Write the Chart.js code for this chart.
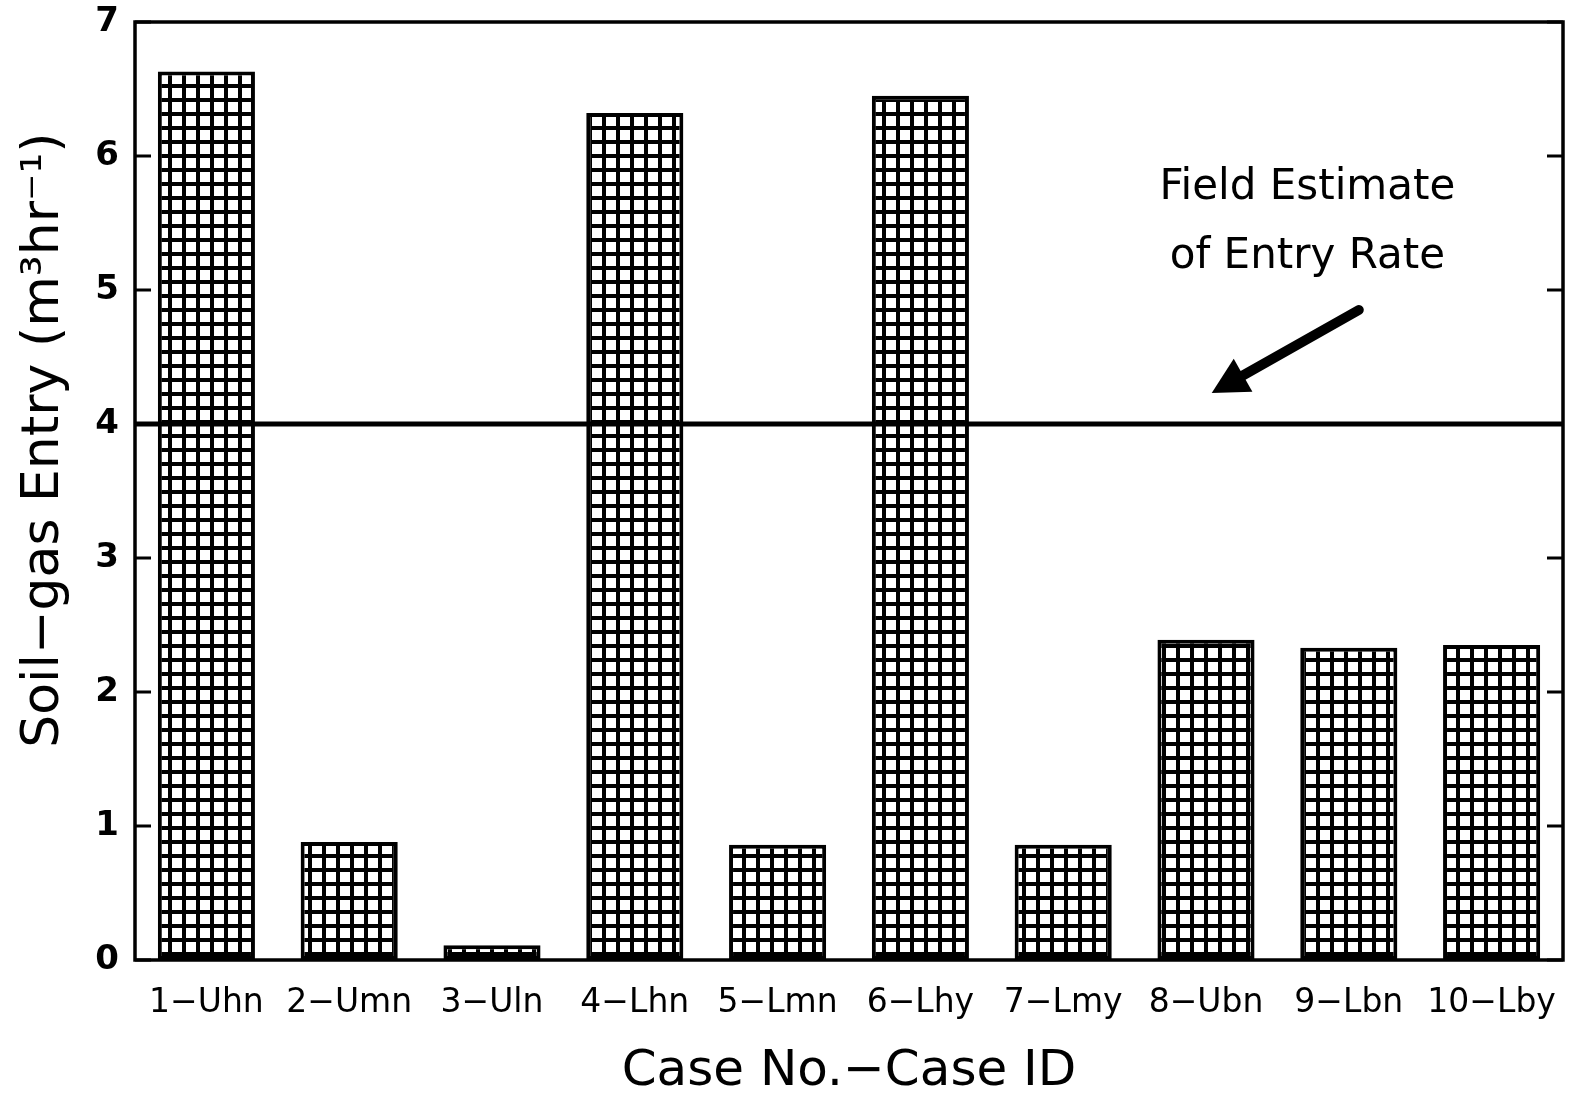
<!DOCTYPE html>
<html>
<head>
<meta charset="utf-8">
<script src="https://cdn.jsdelivr.net/npm/chart.js@4.4.1/dist/chart.umd.min.js"></script>
<style>
  html, body { margin: 0; padding: 0; background: #fff; overflow: hidden; }
  #wrap { width: 1573px; height: 1094px; }
</style>
</head>
<body>
<div id="wrap"><canvas id="chart"></canvas></div>
<script>
// data
var caseLabels = ['1\u2212Uhn', '2\u2212Umn', '3\u2212Uln', '4\u2212Lhn', '5\u2212Lmn',
                  '6\u2212Lhy', '7\u2212Lmy', '8\u2212Ubn', '9\u2212Lbn', '10\u2212Lby'];
var entryRates = [6.63, 0.88, 0.11, 6.32, 0.86, 6.45, 0.86, 2.39, 2.33, 2.35];
var yTicks = [0, 1, 2, 3, 4, 5, 6, 7];
var fieldEstimate = 4;
var noteLines = ['Field Estimate', 'of Entry Rate'];
var yTitle = 'Soil\u2212gas Entry (m\u00b3hr\u207b\u00b9)';
var xTitle = 'Case No.\u2212Case ID';

// grid hatch fill
function makeGrid() {
    var c = document.createElement('canvas');
    c.width = 14; c.height = 14;
    var g = c.getContext('2d');
    g.fillStyle = '#fff';
    g.fillRect(0, 0, 14, 14);
    g.fillStyle = '#000';
    g.fillRect(0, 0, 14, 4);
    g.fillRect(0, 0, 4, 14);
    return g.createPattern(c, 'repeat');
}
var gridFill = makeGrid();

// frame, inside ticks, field-estimate line, note + arrow, y title
var decorations = {
    id: 'decorations',
    afterDatasetsDraw: function (chart) {
        var ctx = chart.ctx;
        var a = chart.chartArea;
        var y = chart.scales.y;
        ctx.save();
        ctx.strokeStyle = '#000';
        ctx.lineWidth = 3.5;
        ctx.strokeRect(a.left, a.top, a.right - a.left, a.bottom - a.top);
        ctx.lineWidth = 3;
        yTicks.forEach(function (v) {
            var py = y.getPixelForValue(v);
            ctx.beginPath();
            ctx.moveTo(a.left, py); ctx.lineTo(a.left + 16, py);
            ctx.moveTo(a.right, py); ctx.lineTo(a.right - 16, py);
            ctx.stroke();
        });
        var fy = y.getPixelForValue(fieldEstimate);
        ctx.lineWidth = 5;
        ctx.beginPath();
        ctx.moveTo(a.left, fy); ctx.lineTo(a.right, fy);
        ctx.stroke();

        var w = a.right - a.left;
        var tx = a.left + w * 0.821;
        ctx.fillStyle = '#000';
        ctx.font = '42px "DejaVu Sans"';
        ctx.textAlign = 'center';
        ctx.textBaseline = 'middle';
        ctx.fillText(noteLines[0], tx, 188);
        ctx.fillText(noteLines[1], tx, 257);

        // arrow
        var x0 = a.left + w * 0.857, y0 = 310;
        var x1 = a.left + w * 0.754, y1 = 393;
        var ang = Math.atan2(y1 - y0, x1 - x0);
        var hx = x1 - 36 * Math.cos(ang), hy = y1 - 36 * Math.sin(ang);
        ctx.lineWidth = 10;
        ctx.lineCap = 'round';
        ctx.beginPath();
        ctx.moveTo(x0, y0); ctx.lineTo(hx, hy);
        ctx.stroke();
        ctx.beginPath();
        ctx.moveTo(x1, y1);
        ctx.lineTo(hx + 19 * Math.sin(ang), hy - 19 * Math.cos(ang));
        ctx.lineTo(hx - 19 * Math.sin(ang), hy + 19 * Math.cos(ang));
        ctx.closePath();
        ctx.fill();

        // y axis title
        ctx.translate(44, y.getPixelForValue(3.88));
        ctx.rotate(-Math.PI / 2);
        ctx.font = '52px "DejaVu Sans"';
        ctx.fillText(yTitle, 0, 0);
        ctx.restore();
    }
};

var chart = new Chart(document.getElementById('chart'), {
    type: 'bar',
    data: {
        labels: caseLabels,
        datasets: [{
            data: entryRates,
            backgroundColor: gridFill,
            borderColor: '#000',
            borderWidth: 4,
            borderSkipped: false,
            barPercentage: 0.68,
            categoryPercentage: 1
        }]
    },
    options: {
        responsive: true,
        maintainAspectRatio: false,
        animation: false,
        events: [],
        layout: { padding: { top: 22, right: 10, left: 0, bottom: -8 } },
        plugins: { legend: { display: false }, tooltip: { enabled: false } },
        scales: {
            x: {
                grid: { display: false, drawTicks: false },
                border: { display: false },
                ticks: { color: '#000', padding: 24, maxRotation: 0, autoSkip: false,
                         font: { family: 'DejaVu Sans', size: 33 } },
                title: { display: true, text: xTitle, color: '#000',
                         padding: { top: 34, bottom: 0 },
                         font: { family: 'DejaVu Sans', size: 50 } },
                afterFit: function (s) {
                    s.height = 142;
                    s.paddingLeft = 0; s.paddingRight = 0;
                }
            },
            y: {
                min: 0, max: 7,
                grid: { display: false, drawTicks: false },
                border: { display: false },
                ticks: { stepSize: 1, color: '#000', padding: 16,
                         font: { family: 'DejaVu Sans', size: 34, weight: 'bold' } },
                afterFit: function (s) {
                    s.width = 135;
                    s.paddingTop = 0; s.paddingBottom = 0;
                }
            }
        }
    },
    plugins: [decorations]
});
</script>
</body>
</html>
